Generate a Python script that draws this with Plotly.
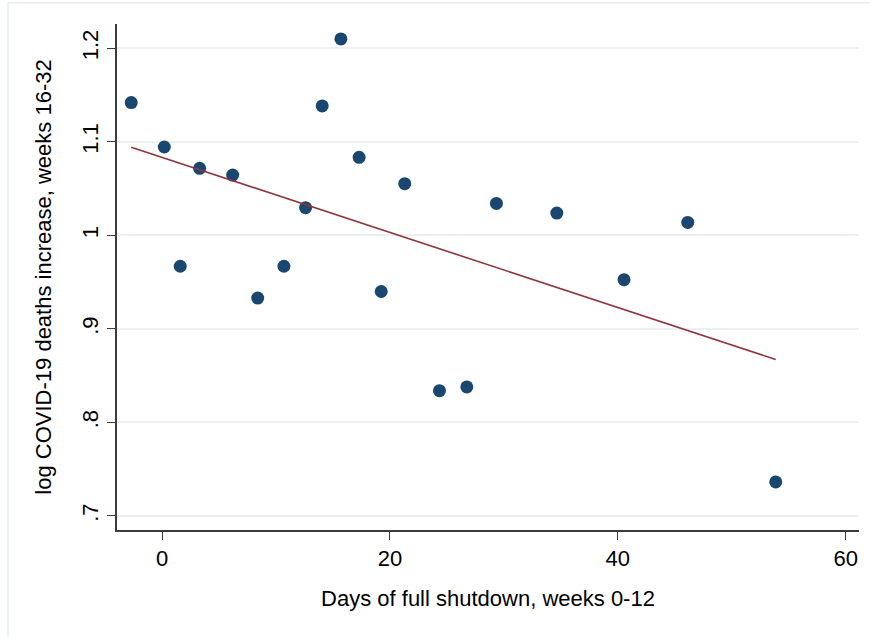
import plotly.graph_objects as go

# Data
shutdown_days = [-2.7, 0.2, 1.6, 3.3, 6.2, 8.4, 10.7, 12.6, 14.06, 15.7,
                 17.3, 19.24, 21.3, 24.35, 26.75, 29.35, 34.65, 40.55, 46.14, 53.86]
log_deaths_increase = [1.142, 1.0945, 0.967, 1.0717, 1.0645, 0.933, 0.967, 1.0296, 1.1384, 1.210,
                       1.0835, 0.940, 1.0553, 0.834, 0.838, 1.0342, 1.0239, 0.9526, 1.0139, 0.7364]

# Fitted line endpoints
fit_x = [-2.7, 53.86]
fit_y = [1.0942, 0.8673]

x_ticks = [0, 20, 40, 60]
x_tick_labels = ["0", "20", "40", "60"]
y_ticks = [0.7, 0.8, 0.9, 1.0, 1.1, 1.2]
y_tick_labels = [".7", ".8", ".9", "1", "1.1", "1.2"]

FONT = "Liberation Sans, Arial, sans-serif"
FS = 22

fig = go.Figure()
fig.add_trace(go.Scatter(
    x=shutdown_days, y=log_deaths_increase, mode="markers",
    marker=dict(color="#1a476f", size=13, line=dict(width=0)),
    showlegend=False, hoverinfo="x+y"))
fig.add_trace(go.Scatter(
    x=fit_x, y=fit_y, mode="lines",
    line=dict(color="#90353b", width=1.6),
    showlegend=False))

L, R, T, B = 117, 11, 24, 107
pw = 870 - L - R
ph = 637 - T - B

fig.update_layout(
    width=870, height=637,
    margin=dict(l=L, r=R, t=T, b=B, pad=0),
    paper_bgcolor="white", plot_bgcolor="white",
    font=dict(family=FONT, size=FS, color="black"),
    xaxis=dict(
        range=[-3.95, 61.17], tickvals=x_ticks, ticktext=x_tick_labels,
        showgrid=False, zeroline=False,
        showline=True, linecolor="#3c3c3c", linewidth=1.5,
        ticks="outside", ticklen=8, tickwidth=1.3, tickcolor="#3c3c3c",
        tickfont=dict(size=FS),
        title=dict(text="Days of full shutdown, weeks 0-12", font=dict(size=FS), standoff=20),
    ),
    yaxis=dict(
        range=[0.685, 1.226], tickvals=y_ticks, ticktext=y_tick_labels,
        showgrid=True, gridcolor="#eaf0f3", gridwidth=1.5, zeroline=False,
        showline=True, linecolor="#3c3c3c", linewidth=1.5,
        ticks="outside", ticklen=8, tickwidth=1.3, tickcolor="#3c3c3c",
        tickangle=-90, tickfont=dict(size=FS),
        title=dict(text="log COVID-19 deaths increase, weeks 16-32", font=dict(size=FS), standoff=21),
    ),
)

# light outer frame (left and top edges)
fx0 = (8 - L) / pw
fy1 = 1 + (T - 3) / ph
fig.add_shape(type="line", xref="paper", yref="paper", x0=fx0, x1=fx0, y0=-0.3, y1=fy1,
              line=dict(color="#e6edf2", width=1.5), layer="below")
fig.add_shape(type="line", xref="paper", yref="paper", x0=fx0, x1=1.05, y0=fy1, y1=fy1,
              line=dict(color="#e6edf2", width=1.5), layer="below")

fig.write_html("out.html")
